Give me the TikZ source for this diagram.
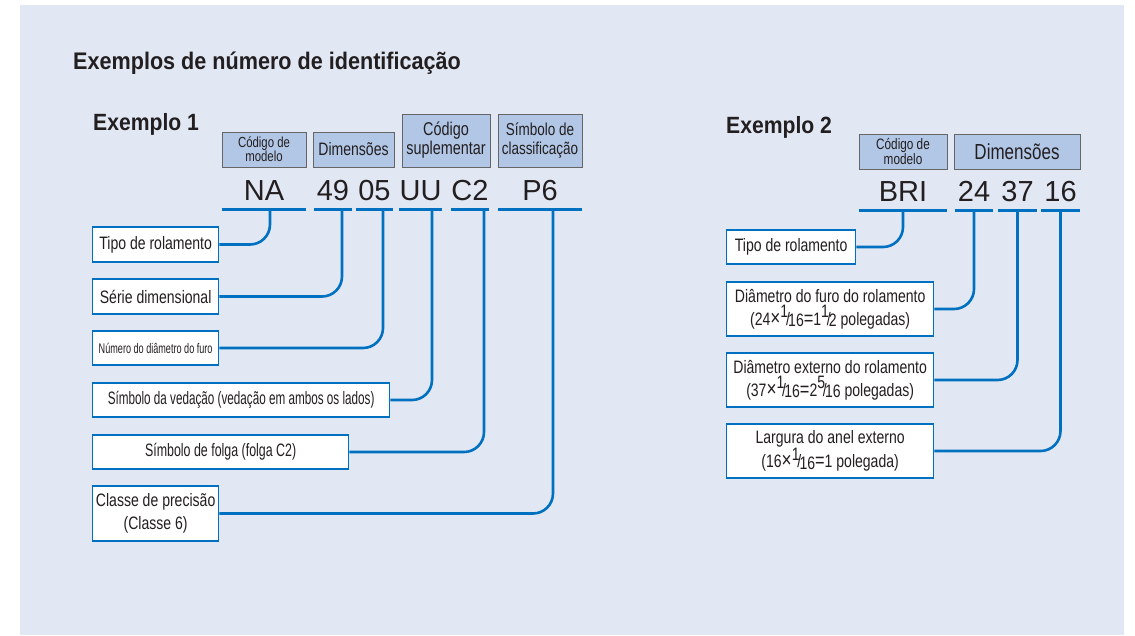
\documentclass[tikz,border=0pt]{standalone}
\usepackage{fontspec}
\setmainfont{Liberation Sans}
\newfontfamily\cnd{Liberation Sans}[FakeStretch=0.78]
\newfontfamily\cndm{Liberation Sans}[FakeStretch=0.69]
\newfontfamily\cndh{Liberation Sans}[FakeStretch=0.9]
\newfontfamily\cndn{Liberation Sans}[FakeStretch=0.65]
\usepackage{tikz}

\definecolor{bgcol}{RGB}{225,232,244}
\definecolor{hdrcol}{RGB}{178,198,230}
\definecolor{linecol}{RGB}{0,112,192}
\definecolor{txtcol}{RGB}{35,31,32}

\newcommand{\frc}[2]{\raisebox{.4em}{#1}\kern-.12em/\kern-.1em\raisebox{-.1em}{#2}}
\newcommand{\tms}{{\fontsize{22}{23}\selectfont×}}
\newcommand{\eqs}{{\fontsize{21}{23}\selectfont=}}

\tikzset{
  hdr/.style={draw=black!60, line width=0.8pt, fill=hdrcol, text=txtcol, align=center, inner sep=0pt},
  code/.style={anchor=base, inner xsep=0pt, inner ysep=9pt, text depth=0pt, text=txtcol, font=\fontsize{29}{29}\selectfont},
  uline/.style={draw=linecol, line width=2.6pt},
  lbl/.style={draw=linecol, line width=1.3pt, fill=white, text=txtcol, align=center, inner sep=0pt, anchor=west, font=\cnd\fontsize{18}{23}\selectfont},
  conn/.style={draw=linecol, line width=2.6pt, rounded corners=20pt},
}

\begin{document}
\begin{tikzpicture}[x=1pt, y=-1pt]
\useasboundingbox (0,0) rectangle (1135,635);
\fill [bgcol] (20,5) rectangle (1124,635);

% titles
\node [anchor=base west, inner sep=0pt, text=txtcol, font=\cndh\bfseries\fontsize{24}{28}\selectfont] (title) at (73,69) {Exemplos de número de identificação};
\node [anchor=base west, inner sep=0pt, text=txtcol, font=\cndh\bfseries\fontsize{23.5}{26}\selectfont] (ex1) at (93,130) {Exemplo 1};
\node [anchor=base west, inner sep=0pt, text=txtcol, font=\cndh\bfseries\fontsize{23.5}{26}\selectfont] (ex2) at (726,133) {Exemplo 2};

% example 1
\node [hdr, minimum width=84, minimum height=35, font=\cnd\fontsize{14.6}{14.3}\selectfont] (hmod) at (264,149.5) {Código de\\modelo};
\node [hdr, minimum width=81, minimum height=35, font=\cnd\fontsize{18}{19}\selectfont] (hdim) at (353.5,149.5) {Dimensões};
\node [hdr, minimum width=88, minimum height=53, font=\cnd\fontsize{18.5}{19}\selectfont] (hsup) at (446,140.5) {Código\\suplementar};
\node [hdr, minimum width=84, minimum height=53, font=\cnd\fontsize{17.3}{19}\selectfont] (hcls) at (540,140.5) {Símbolo de\\classificação};

\node [code, minimum width=84] (na) at (264,200) {NA};
\node [code, minimum width=38] (n49) at (333,200) {49};
\node [code, minimum width=37] (n05) at (374.5,200) {05};
\node [code, minimum width=39] (uu) at (420.5,200) {UU};
\node [code, minimum width=38] (c2) at (470,200) {C2};
\node [code, minimum width=84] (p6) at (540,200) {P6};

\node [lbl, minimum width=126, minimum height=35] (tipo) at (92,244.5) {Tipo de rolamento};
\node [lbl, minimum width=126, minimum height=35] (serie) at (92,296.5) {Série dimensional};
\node [lbl, minimum width=126, minimum height=34, font=\cndn\fontsize{14}{16}\selectfont] (furo) at (92,348) {Número do diâmetro do furo};
\node [lbl, minimum width=297, minimum height=34, font=\cndn\fontsize{18}{23}\selectfont] (veda) at (92,400) {Símbolo da vedação (vedação em ambos os lados)};
\node [lbl, minimum width=256, minimum height=34, font=\cndm\fontsize{18}{23}\selectfont] (folga) at (92,452) {Símbolo de folga (folga C2)};
\node [lbl, minimum width=126, minimum height=55] (prec) at (92,513.5) {Classe de precisão\\(Classe 6)};

\foreach \c in {na,n49,n05,uu,c2,p6}
  \draw [uline] (\c.south west) -- (\c.south east);

\draw [conn] ([xshift=6]na.south) |- (tipo.east);
\draw [conn] ([xshift=9]n49.south) |- (serie.east);
\draw [conn] ([xshift=8.5]n05.south) |- (furo.east);
\draw [conn] ([xshift=11.5]uu.south) |- (veda.east);
\draw [conn] ([xshift=14]c2.south) |- (folga.east);
\draw [conn] ([xshift=13]p6.south) |- (prec.east);

% example 2
\node [hdr, minimum width=88, minimum height=35, font=\cnd\fontsize{15.1}{14.3}\selectfont] (hmodb) at (903,151.5) {Código de\\modelo};
\node [hdr, minimum width=126, minimum height=35, font=\cnd\fontsize{21.8}{22}\selectfont] (hdimb) at (1017,151.5) {Dimensões};

\node [code, minimum width=88] (bri) at (903,201) {BRI};
\node [code, minimum width=38] (n24) at (974,201) {24};
\node [code, minimum width=39] (n37) at (1017.5,201) {37};
\node [code, minimum width=39] (n16) at (1060.5,201) {16};

\node [lbl, minimum width=129, minimum height=34] (tipob) at (726,247) {Tipo de rolamento};
\node [lbl, minimum width=207, minimum height=54] (furob) at (726,309) {Diâmetro do furo do rolamento\\(24\tms\frc{1}{16}\eqs1\frc{1}{2} polegadas)};
\node [lbl, minimum width=207, minimum height=54] (extb) at (726,380) {Diâmetro externo do rolamento\\(37\tms\frc{1}{16}\eqs2\frc{5}{16} polegadas)};
\node [lbl, minimum width=207, minimum height=54] (larg) at (726,451) {Largura do anel externo\\(16\tms\frc{1}{16}\eqs1 polegada)};

\foreach \c in {bri,n24,n37,n16}
  \draw [uline] (\c.south west) -- (\c.south east);

\draw [conn] (bri.south) |- (tipob.east);
\draw [conn] (n24.south) |- (furob.east);
\draw [conn] (n37.south) |- (extb.east);
\draw [conn] (n16.south) |- (larg.east);
\end{tikzpicture}
\end{document}
